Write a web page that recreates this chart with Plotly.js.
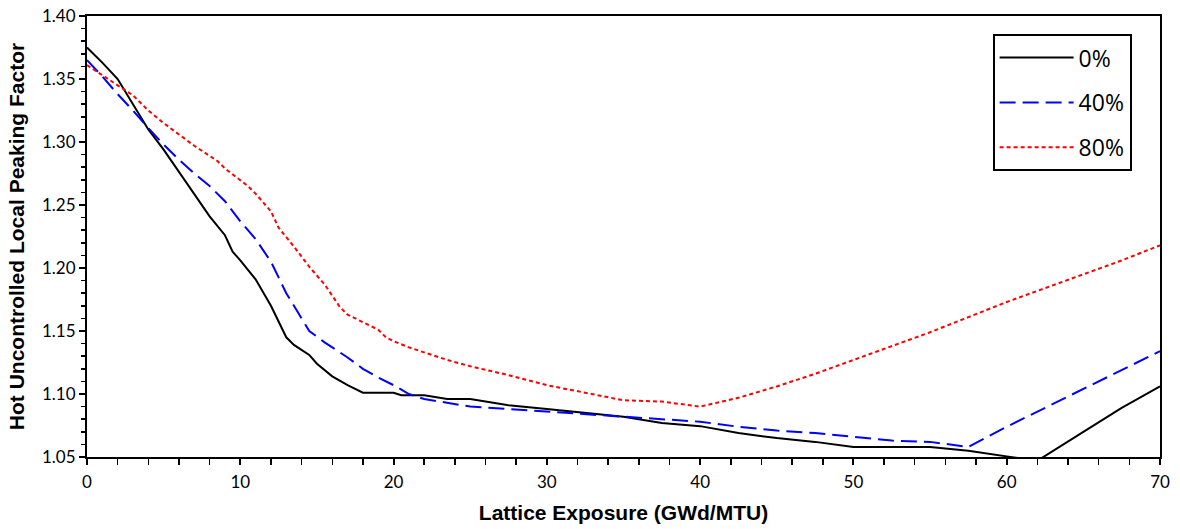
<!DOCTYPE html>
<html>
<head>
<meta charset="utf-8">
<script src="https://cdn.plot.ly/plotly-3.0.1.min.js"></script>
<style>html,body{margin:0;padding:0;background:#fff;}#chart{width:1180px;height:529px;}</style>
</head>
<body>
<div id="chart"></div>
<script>
// Series names
const seriesNames = ["0%", "40%", "80%"];

// 0% void
const x0 = [0, 1, 2, 2.5, 4, 5, 6, 7, 8, 9, 9.5, 10, 11, 12, 12.5, 13, 13.5, 14.5, 15, 16, 17, 18, 20, 20.5, 22, 22.5, 23.5, 25, 25.5, 27.5, 30, 32.5, 35, 37.5, 40, 42.5, 45, 47.5, 50, 55, 57.5, 60, 62, 65, 67.5, 70];
const y0 = [1.375, 1.363, 1.350, 1.340, 1.310, 1.294, 1.276, 1.258, 1.241, 1.226, 1.213, 1.206, 1.191, 1.170, 1.158, 1.145, 1.139, 1.131, 1.124, 1.114, 1.107, 1.101, 1.101, 1.099, 1.099, 1.098, 1.096, 1.096, 1.095, 1.091, 1.088, 1.085, 1.082, 1.077, 1.0745, 1.069, 1.065, 1.062, 1.058, 1.058, 1.055, 1.0505, 1.047, 1.070, 1.089, 1.106];

// 40% void
const x40 = [0, 1, 2, 3, 4, 5, 6, 7, 8, 9, 10, 11, 12, 12.5, 13, 13.5, 14.5, 15.5, 17, 18, 19, 20, 21, 22, 23.5, 25, 27.5, 30, 32.5, 35, 37.5, 40, 42.5, 45, 47.5, 50, 52.5, 55, 57.5, 60, 62.5, 65, 67.5, 70];
const y40 = [1.365, 1.352, 1.338, 1.325, 1.311, 1.298, 1.286, 1.275, 1.265, 1.253, 1.237, 1.223, 1.205, 1.192, 1.180, 1.170, 1.150, 1.141, 1.129, 1.120, 1.113, 1.107, 1.100, 1.096, 1.093, 1.090, 1.088, 1.086, 1.084, 1.082, 1.080, 1.078, 1.074, 1.071, 1.069, 1.066, 1.063, 1.062, 1.058, 1.074, 1.089, 1.104, 1.119, 1.134];

// 80% void
const x80 = [0, 1, 2, 3, 4, 5, 6, 7, 8, 8.5, 9, 10, 10.5, 11, 12, 12.5, 13.5, 14.5, 15.5, 16.5, 17, 18, 19, 19.5, 20, 21, 22.5, 23.5, 25, 27.5, 30, 32.5, 35, 37.5, 40, 42.5, 45, 47.5, 50, 52.5, 55, 57.5, 60, 62.5, 65, 67.5, 70];
const y80 = [1.361, 1.353, 1.345, 1.337, 1.325, 1.315, 1.306, 1.297, 1.289, 1.285, 1.279, 1.270, 1.265, 1.259, 1.245, 1.232, 1.217, 1.201, 1.187, 1.169, 1.163, 1.157, 1.151, 1.145, 1.142, 1.137, 1.131, 1.127, 1.122, 1.115, 1.107, 1.101, 1.095, 1.094, 1.090, 1.097, 1.106, 1.116, 1.127, 1.138, 1.149, 1.161, 1.173, 1.184, 1.195, 1.206, 1.218];

const xTitle = "Lattice Exposure (GWd/MTU)";
const yTitle = "Hot Uncontrolled Local Peaking Factor";

const traces = [
  {x: x0, y: y0, name: seriesNames[0], mode: "lines", legendgroup: "a",
   line: {color: "#000000", width: 2, dash: "solid"}},
  {x: x40, y: y40, name: seriesNames[1], mode: "lines", legendgroup: "b",
   line: {color: "#0000ff", width: 2, dash: "16px,7px"}},
  {x: x80, y: y80, name: seriesNames[2], mode: "lines", legendgroup: "c",
   line: {color: "#ff0000", width: 2, dash: "4px,3px"}}
];

const tickFont = {family: "Lato, 'Open Sans', sans-serif", size: 17, color: "#000"};
const titleFont = {family: "'Liberation Sans', Arial, sans-serif", size: 21, color: "#000", weight: "bold"};

const layout = {
  width: 1180, height: 529,
  paper_bgcolor: "#fff", plot_bgcolor: "#fff",
  margin: {l: 87, r: 20, t: 16, b: 72, pad: 0},
  showlegend: true,
  legend: {
    x: 0.844, y: 0.959, xanchor: "left", yanchor: "top",
    bordercolor: "#000", borderwidth: 2, bgcolor: "#fff",
    font: {family: "'Open Sans', Lato, sans-serif", size: 23, color: "#000"},
    tracegroupgap: 12, itemwidth: 74
  },
  xaxis: {
    range: [0, 70], dtick: 10, tick0: 0,
    showgrid: false, zeroline: false,
    showline: true, linecolor: "#000", linewidth: 2, mirror: true,
    ticks: "outside", ticklen: 6, tickwidth: 2, tickcolor: "#000",
    minor: {dtick: 2, ticks: "outside", ticklen: 6, tickwidth: 1.5, tickcolor: "#000", showgrid: false},
    tickfont: tickFont, ticklabelstandoff: 3,
    title: {text: xTitle, font: titleFont, standoff: 14}
  },
  yaxis: {
    range: [1.05, 1.40], dtick: 0.05, tick0: 1.05, tickformat: ".2f",
    showgrid: false, zeroline: false,
    showline: true, linecolor: "#000", linewidth: 2, mirror: true,
    ticks: "outside", ticklen: 6, tickwidth: 2, tickcolor: "#000",
    minor: {dtick: 0.01, ticks: "outside", ticklen: 4, tickwidth: 1.5, tickcolor: "#000", showgrid: false},
    tickfont: tickFont,
    title: {text: yTitle, font: titleFont, standoff: 12}
  }
};

Plotly.newPlot("chart", traces, layout, {displayModeBar: false, staticPlot: true});
</script>
</body>
</html>
